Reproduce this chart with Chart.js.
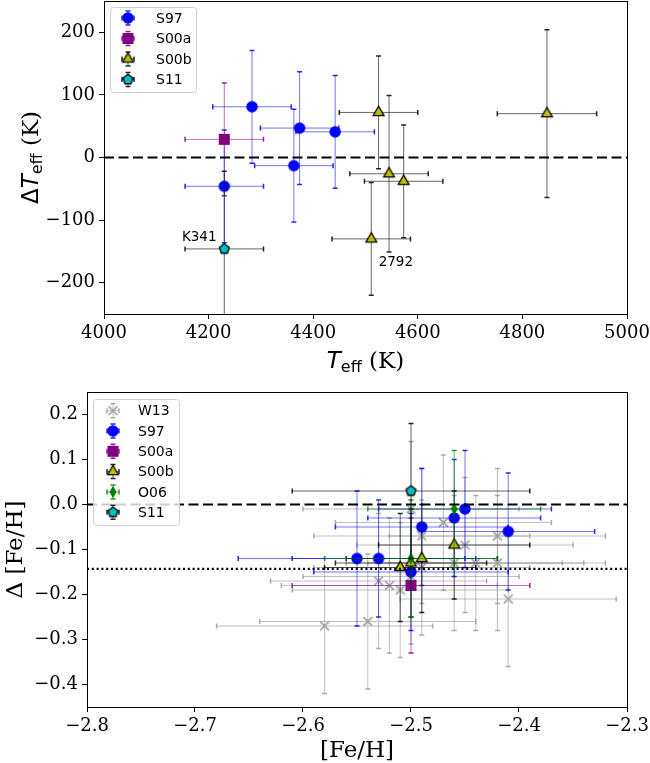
<!DOCTYPE html>
<html>
<head>
<meta charset="utf-8">
<script src="https://cdn.jsdelivr.net/npm/chart.js@4.4.1/dist/chart.umd.min.js"></script>
<style>
  html, body { margin: 0; padding: 0; background: #fff; }
  #wrap { position: relative; width: 650px; height: 763px; overflow: hidden; }
  canvas { position: absolute; left: 0; }
  #topChart { top: 0; }
  #botChart { top: 380px; }
</style>
</head>
<body>
<div id="wrap">
  <canvas id="topChart" width="650" height="380"></canvas>
  <canvas id="botChart" width="650" height="383"></canvas>
</div>
<script>
// ---- top panel: Teff vs delta Teff ----
const topXRange = [4000, 5000];
const topYRange = [-250, 250];
const topXTicks = [4000, 4200, 4400, 4600, 4800, 5000];
const topYTicks = [-200, -100, 0, 100, 200];
const topRefLine = 0;

const s97Teff = [4283, 4374, 4442, 4363, 4230];
const s97dT = [81, 47, 41, -13, -46];
const s97TeffErr = [75, 75, 75, 75, 75];
const s97dTErr = [90, 90, 90, 90, 90];

const s00aTeff = [4230];
const s00adT = [29];
const s00aTeffErr = [75];
const s00adTErr = [90];

const s00bTeff = [4525, 4847, 4545, 4573, 4511];
const s00bdT = [72, 70, -26, -38, -130];
const s00bTeffErr = [75, 95, 75, 75, 75];
const s00bdTErr = [90, 134, 125, 90, 90];

const s11Teff = [4230];
const s11dT = [-146];
const s11TeffErr = [75];
const s11dTErr = [124];

const topNotes = [
  { text: 'K341', x: 4182, y: -128 },
  { text: '2792', x: 4558, y: -167 }
];

// ---- bottom panel: [Fe/H] vs delta [Fe/H] ----
const botXRange = [-2.8, -2.3];
const botYRange = [-0.45, 0.25];
const botXTicks = [-2.8, -2.7, -2.6, -2.5, -2.4, -2.3];
const botYTicks = [-0.4, -0.3, -0.2, -0.1, 0.0, 0.1, 0.2];
const botZeroLine = 0;
const botMeanLine = -0.143;

const w13Fe = [-2.50, -2.47, -2.49, -2.42, -2.45, -2.46, -2.44, -2.42, -2.49, -2.50, -2.53, -2.52, -2.51, -2.41, -2.54, -2.58];
const w13dFe = [-0.01, -0.04, -0.07, -0.07, -0.09, -0.13, -0.13, -0.13, -0.14, -0.16, -0.17, -0.18, -0.19, -0.21, -0.26, -0.27];
const w13FeErr = [0.10, 0.10, 0.10, 0.10, 0.10, 0.10, 0.10, 0.10, 0.10, 0.10, 0.10, 0.10, 0.10, 0.10, 0.10, 0.10];
const w13dFeErr = [0.15, 0.15, 0.15, 0.15, 0.15, 0.15, 0.15, 0.15, 0.15, 0.15, 0.15, 0.15, 0.15, 0.15, 0.15, 0.15];

const s97Fe = [-2.55, -2.53, -2.49, -2.46, -2.45, -2.41, -2.50];
const s97dFe = [-0.12, -0.12, -0.05, -0.03, -0.01, -0.06, -0.15];
const s97FeErr = [0.11, 0.08, 0.08, 0.08, 0.08, 0.08, 0.09];
const s97dFeErr = [0.15, 0.13, 0.13, 0.13, 0.13, 0.13, 0.13];

const s00aFe = [-2.50];
const s00adFe = [-0.18];
const s00aFeErr = [0.11];
const s00adFeErr = [0.15];

const s00bFe = [-2.51, -2.50, -2.49, -2.46];
const s00bdFe = [-0.14, -0.13, -0.12, -0.09];
const s00bFeErr = [0.07, 0.07, 0.07, 0.07];
const s00bdFeErr = [0.12, 0.12, 0.12, 0.12];

const o06Fe = [-2.50, -2.46];
const o06dFe = [-0.12, -0.01];
const o06FeErr = [0.08, 0.08];
const o06dFeErr = [0.13, 0.13];

const s11Fe = [-2.50];
const s11dFe = [0.03];
const s11FeErr = [0.11];
const s11dFeErr = [0.15];

// ---------------------------------------------------------------

function pts(xs, ys, xe, ye) {
  return xs.map((x, i) => ({ x, y: ys[i], xe: xe[i], ye: ye[i] }));
}

function makeMarker(shape, size, fill, edge) {
  const pad = 3, s = Math.ceil(size) + pad * 2;
  const c = document.createElement('canvas');
  c.width = c.height = s;
  const g = c.getContext('2d');
  g.translate(s / 2, s / 2);
  const r = size / 2;
  g.beginPath();
  if (shape === 'circle') {
    g.arc(0, 0, r, 0, Math.PI * 2);
  } else if (shape === 'square') {
    g.rect(-r, -r, size, size);
  } else if (shape === 'triangle' || shape === 'pentagon') {
    const n = shape === 'triangle' ? 3 : 5;
    for (let i = 0; i < n; i++) {
      const a = -Math.PI / 2 + i * 2 * Math.PI / n;
      g.lineTo(r * Math.cos(a), r * Math.sin(a));
    }
    g.closePath();
  } else if (shape === 'thin_diamond') {
    g.moveTo(0, -r); g.lineTo(r * 0.6, 0); g.lineTo(0, r); g.lineTo(-r * 0.6, 0);
    g.closePath();
  } else if (shape === 'x') {
    const q = r * 0.8;
    g.moveTo(-q, -q); g.lineTo(q, q); g.moveTo(q, -q); g.lineTo(-q, q);
    g.strokeStyle = fill; g.lineWidth = 1.6; g.stroke();
    return c;
  }
  g.fillStyle = fill; g.fill();
  if (edge) { g.strokeStyle = edge; g.lineWidth = 1.3; g.stroke(); }
  return c;
}

const mk = {
  W13: makeMarker('x', 11, '#a0a0a0'),
  S97: makeMarker('circle', 11.5, '#0000ff'),
  S00a: makeMarker('square', 11, '#800080'),
  S00b: makeMarker('triangle', 12.5, '#bfbf00', '#000'),
  O06: makeMarker('thin_diamond', 12, '#008000'),
  S11: makeMarker('pentagon', 10.5, '#00bfbf', '#000')
};

const errStyle = {
  W13: ['rgba(150,150,150,0.6)', 'rgba(150,150,150,0.8)'],
  S97: ['rgba(0,0,255,0.55)', 'rgba(0,0,255,0.85)'],
  S00a: ['rgba(128,0,128,0.55)', 'rgba(128,0,128,0.85)'],
  S00b: ['rgba(0,0,0,0.6)', 'rgba(0,0,0,0.85)'],
  O06: ['rgba(0,128,0,0.6)', 'rgba(0,128,0,0.85)'],
  S11: ['rgba(0,0,0,0.6)', 'rgba(0,0,0,0.85)']
};

function series(label, data, order) {
  return {
    type: 'scatter', label, data, order,
    pointStyle: mk[label], pointRadius: 6, pointHoverRadius: 6,
    errColor: errStyle[label][0], capColor: errStyle[label][1]
  };
}

function refLine(range, y, dash) {
  return {
    type: 'line', label: '', order: 0,
    data: [{ x: range[0], y }, { x: range[1], y }],
    borderColor: '#000', borderWidth: 2.2, borderDash: dash,
    pointRadius: 0, fill: false
  };
}

const errorBars = {
  id: 'errorBars',
  beforeDatasetDraw(chart, args) {
    const ds = chart.data.datasets[args.index];
    if (!ds.errColor) return;
    const { ctx, chartArea: a, scales: { x, y } } = chart;
    ctx.save();
    ctx.beginPath();
    ctx.rect(a.left, a.top, a.right - a.left, a.bottom - a.top);
    ctx.clip();
    ds.data.forEach(p => {
      const px = x.getPixelForValue(p.x), py = y.getPixelForValue(p.y);
      const x0 = x.getPixelForValue(p.x - p.xe), x1 = x.getPixelForValue(p.x + p.xe);
      const y0 = y.getPixelForValue(p.y - p.ye), y1 = y.getPixelForValue(p.y + p.ye);
      ctx.lineWidth = 1;
      ctx.strokeStyle = ds.errColor;
      ctx.beginPath();
      ctx.moveTo(x0, py); ctx.lineTo(x1, py);
      ctx.moveTo(px, y0); ctx.lineTo(px, y1);
      ctx.stroke();
      ctx.lineWidth = 1.5;
      ctx.strokeStyle = ds.capColor;
      ctx.beginPath();
      [x0, x1].forEach(cx => { ctx.moveTo(cx, py - 2.5); ctx.lineTo(cx, py + 2.5); });
      [y0, y1].forEach(cy => { ctx.moveTo(px - 2.5, cy); ctx.lineTo(px + 2.5, cy); });
      ctx.stroke();
    });
    ctx.restore();
  }
};

function drawLabel(ctx, segs, cx, cy, vertical) {
  ctx.save();
  ctx.translate(cx, cy);
  if (vertical) ctx.rotate(-Math.PI / 2);
  let w = 0;
  segs.forEach(s => { ctx.font = s.font; w += ctx.measureText(s.text).width; });
  let x = -w / 2;
  ctx.fillStyle = '#000';
  ctx.textBaseline = 'alphabetic';
  segs.forEach(s => {
    ctx.font = s.font;
    ctx.fillText(s.text, x, 8 + (s.dy || 0));
    x += ctx.measureText(s.text).width;
  });
  ctx.restore();
}

function frameAndText(opt) {
  return {
    id: 'frameAndText',
    afterDraw(chart) {
      const { ctx, chartArea: a } = chart;
      ctx.save();
      ctx.strokeStyle = '#000';
      ctx.lineWidth = 1;
      ctx.strokeRect(Math.round(a.left) + 0.5, Math.round(a.top) + 0.5,
        Math.round(a.right - a.left), Math.round(a.bottom - a.top));
      ctx.restore();
      drawLabel(ctx, opt.xTitle, (a.left + a.right) / 2, opt.xTitleY, false);
      drawLabel(ctx, opt.yTitle, opt.yTitleX, (a.top + a.bottom) / 2, true);

      (opt.notes || []).forEach(n => {
        ctx.save();
        ctx.font = '13.5px "DejaVu Sans"';
        ctx.fillStyle = '#000';
        ctx.textAlign = 'center';
        ctx.textBaseline = 'middle';
        ctx.fillText(n.text, chart.scales.x.getPixelForValue(n.x), chart.scales.y.getPixelForValue(n.y));
        ctx.restore();
      });

      // legend box
      const L = opt.legend;
      ctx.save();
      ctx.beginPath();
      ctx.roundRect(L.left + 0.5, L.top + 0.5, L.width, L.height, 3);
      ctx.fillStyle = 'rgba(255,255,255,0.8)';
      ctx.fill();
      ctx.strokeStyle = '#d0d0d0';
      ctx.lineWidth = 1;
      ctx.stroke();
      const entries = chart.data.datasets.filter(d => d.errColor);
      entries.forEach((d, i) => {
        const cy = L.firstRow + i * L.rowGap, cx = L.markerX;
        ctx.lineWidth = 1;
        ctx.strokeStyle = d.errColor;
        ctx.beginPath();
        ctx.moveTo(cx - 6, cy); ctx.lineTo(cx + 6, cy);
        ctx.moveTo(cx, cy - 7); ctx.lineTo(cx, cy + 7);
        ctx.stroke();
        ctx.lineWidth = 1.5;
        ctx.strokeStyle = d.capColor;
        ctx.beginPath();
        ctx.moveTo(cx - 6, cy - 2.5); ctx.lineTo(cx - 6, cy + 2.5);
        ctx.moveTo(cx + 6, cy - 2.5); ctx.lineTo(cx + 6, cy + 2.5);
        ctx.moveTo(cx - 2.5, cy - 7); ctx.lineTo(cx + 2.5, cy - 7);
        ctx.moveTo(cx - 2.5, cy + 7); ctx.lineTo(cx + 2.5, cy + 7);
        ctx.stroke();
        const img = d.pointStyle;
        ctx.drawImage(img, cx - img.width / 2, cy - img.height / 2);
        ctx.font = '14px "DejaVu Sans"';
        ctx.fillStyle = '#000';
        ctx.textBaseline = 'middle';
        ctx.fillText(d.label, L.textX, cy + 1);
      });
      ctx.restore();
    }
  };
}

function fmt(v, digits) {
  const s = Math.abs(v).toFixed(digits);
  return (v < -1e-9 ? '\u2212' : '') + s;
}

function axis(range, ticks, digits, size) {
  return {
    type: 'linear',
    min: range[0], max: range[1],
    afterBuildTicks: s => { s.ticks = ticks.map(v => ({ value: v })); },
    afterFit: s => {
      s.paddingTop = s.paddingBottom = s.paddingLeft = s.paddingRight = 0;
      if (s.isHorizontal()) s.height = size; else s.width = size;
    },
    ticks: {
      color: '#000', padding: 4,
      font: { family: 'DejaVu Serif', size: 18 },
      callback: v => fmt(v, digits)
    },
    grid: { display: true, drawOnChartArea: false, drawTicks: true, tickLength: 5, tickColor: '#000' },
    border: { display: true, color: '#000', width: 1 }
  };
}

function baseOptions(padTop, xs, ys) {
  return {
    responsive: false, animation: false, events: [],
    layout: { autoPadding: false, padding: { left: 0, right: 23, top: padTop, bottom: 0 } },
    plugins: { legend: { display: false }, tooltip: { enabled: false } },
    scales: { x: xs, y: ys }
  };
}

const titleFont = '23px "DejaVu Serif"';

new Chart(document.getElementById('topChart'), {
  data: {
    datasets: [
      series('S97', pts(s97Teff, s97dT, s97TeffErr, s97dTErr), 4),
      series('S00a', pts(s00aTeff, s00adT, s00aTeffErr, s00adTErr), 3),
      series('S00b', pts(s00bTeff, s00bdT, s00bTeffErr, s00bdTErr), 2),
      series('S11', pts(s11Teff, s11dT, s11TeffErr, s11dTErr), 1),
      refLine(topXRange, topRefLine, [10, 4.5])
    ]
  },
  options: baseOptions(1,
    axis(topXRange, topXTicks, 0, 66),
    axis(topYRange, topYTicks, 0, 104)),
  plugins: [errorBars, frameAndText({
    xTitle: [
      { text: 'T', font: 'italic 23px "DejaVu Sans"' },
      { text: 'eff', font: '16px "DejaVu Sans"', dy: 4 },
      { text: ' (K)', font: titleFont }
    ],
    xTitleY: 360,
    yTitle: [
      { text: '\u0394', font: '23px "DejaVu Sans"' },
      { text: 'T', font: 'italic 23px "DejaVu Sans"' },
      { text: 'eff', font: '16px "DejaVu Sans"', dy: 4 },
      { text: ' (K)', font: titleFont }
    ],
    yTitleX: 30,
    notes: topNotes,
    legend: { left: 110, top: 7, width: 86, height: 85, markerX: 128, textX: 156, firstRow: 18, rowGap: 20.5 }
  })]
});

new Chart(document.getElementById('botChart'), {
  data: {
    datasets: [
      series('W13', pts(w13Fe, w13dFe, w13FeErr, w13dFeErr), 6),
      series('S97', pts(s97Fe, s97dFe, s97FeErr, s97dFeErr), 5),
      series('S00a', pts(s00aFe, s00adFe, s00aFeErr, s00adFeErr), 4),
      series('S00b', pts(s00bFe, s00bdFe, s00bFeErr, s00bdFeErr), 3),
      series('O06', pts(o06Fe, o06dFe, o06FeErr, o06dFeErr), 2),
      series('S11', pts(s11Fe, s11dFe, s11FeErr, s11dFeErr), 1),
      refLine(botXRange, botZeroLine, [10, 4.5]),
      refLine(botXRange, botMeanLine, [2, 2.8])
    ]
  },
  options: baseOptions(12,
    axis(botXRange, botXTicks, 1, 56),
    axis(botYRange, botYTicks, 1, 87)),
  plugins: [errorBars, frameAndText({
    xTitle: [{ text: '[Fe/H]', font: titleFont }],
    xTitleY: 369,
    yTitle: [{ text: '\u0394 [Fe/H]', font: titleFont }],
    yTitleX: 14,
    legend: { left: 93, top: 19, width: 86, height: 126, markerX: 113, textX: 138, firstRow: 30.7, rowGap: 20.3 }
  })]
});
</script>
</body>
</html>
